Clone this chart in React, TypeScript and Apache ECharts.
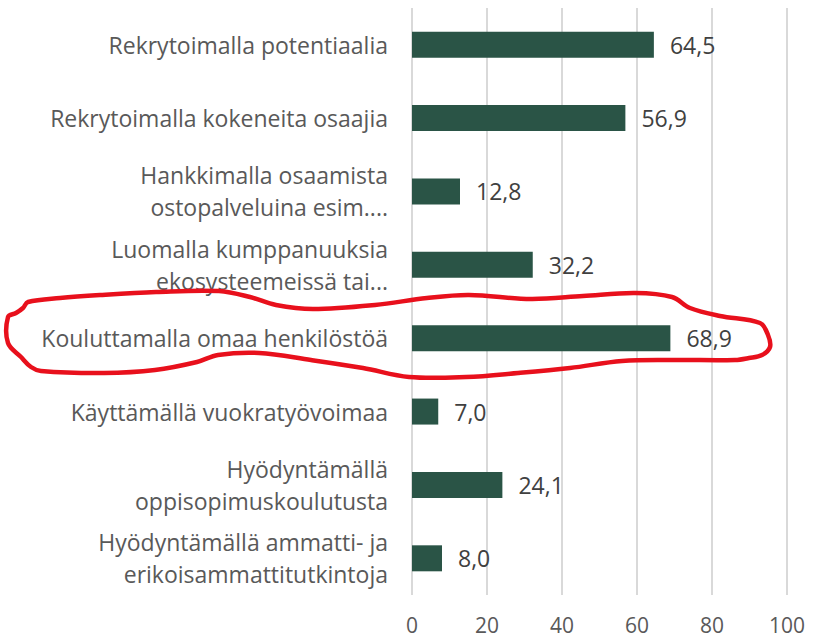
import React, { useEffect, useRef } from "react";
import * as echarts from "echarts";

const categories = [
  "Rekrytoimalla potentiaalia",
  "Rekrytoimalla kokeneita osaajia",
  "Hankkimalla osaamista\nostopalveluina esim....",
  "Luomalla kumppanuuksia\nekosysteemeissä tai...",
  "Kouluttamalla omaa henkilöstöä",
  "Käyttämällä vuokratyövoimaa",
  "Hyödyntämällä\noppisopimuskoulutusta",
  "Hyödyntämällä ammatti- ja\nerikoisammattitutkintoja",
];
const values = [64.5, 56.9, 12.8, 32.2, 68.9, 7.0, 24.1, 8.0];
const axisMin = 0;
const axisMax = 100;
const axisStep = 20;

const highlightOutline: number[][] = [
  [28, 302], [60, 298], [100, 295], [156, 292], [219, 291], [250, 297], [276, 305],
  [313, 309], [375, 305], [427, 298], [469, 295], [531, 299], [583, 296], [635, 293],
  [672, 297], [690, 308], [720, 316], [760, 323], [768, 335], [770, 347], [762, 355],
  [749, 358], [735, 360], [674, 360], [622, 361], [570, 368], [518, 373], [466, 377],
  [409, 377], [363, 368], [311, 360], [259, 353], [218, 355], [197, 362], [155, 370],
  [104, 373], [41, 371], [31, 367], [21, 357], [8, 343], [8, 317], [16, 313], [23, 308],
];

export default function App() {
  const ref = useRef<HTMLDivElement>(null);
  useEffect(() => {
    if (!ref.current) return;
    const chart = echarts.init(ref.current, null, { renderer: "svg" });
    const font = "'Open Sans', 'Noto Sans', sans-serif";
    chart.setOption({
      animation: false,
      backgroundColor: "#ffffff",
      grid: { left: 412, right: 26, top: 8, bottom: 43, containLabel: false },
      xAxis: {
        type: "value",
        min: axisMin,
        max: axisMax,
        interval: axisStep,
        axisLine: { show: false },
        axisTick: { show: false },
        splitLine: { show: true, lineStyle: { color: "#d9d9d9", width: 2 } },
        axisLabel: {
          color: "#595959",
          fontSize: 21,
          fontFamily: font,
          margin: 19,
          lineHeight: 21,
        },
      },
      yAxis: {
        type: "category",
        data: categories,
        inverse: true,
        axisLine: { show: false },
        axisTick: { show: false },
        axisLabel: {
          color: "#595959",
          fontSize: 23,
          fontFamily: font,
          margin: 24,
          lineHeight: 32,
          align: "right",
        },
      },
      series: [
        {
          type: "bar",
          data: values,
          barWidth: 26,
          itemStyle: { color: "#2a5446" },
          label: {
            show: true,
            position: "right",
            distance: 16,
            color: "#404040",
            fontSize: 23,
            fontFamily: font,
            formatter: (p: any) => Number(p.value).toFixed(1).replace(".", ","),
          },
        },
      ],
      graphic: [
        {
          type: "polygon",
          z: 100,
          shape: { points: highlightOutline, smooth: 0.35 },
          style: { fill: "none", stroke: "#e8101c", lineWidth: 4.5 },
        },
      ],
    });
    return () => chart.dispose();
  }, []);
  return (
    <div
      ref={ref}
      style={{ position: "absolute", left: 0, top: 0, width: 813, height: 638 }}
    />
  );
}
